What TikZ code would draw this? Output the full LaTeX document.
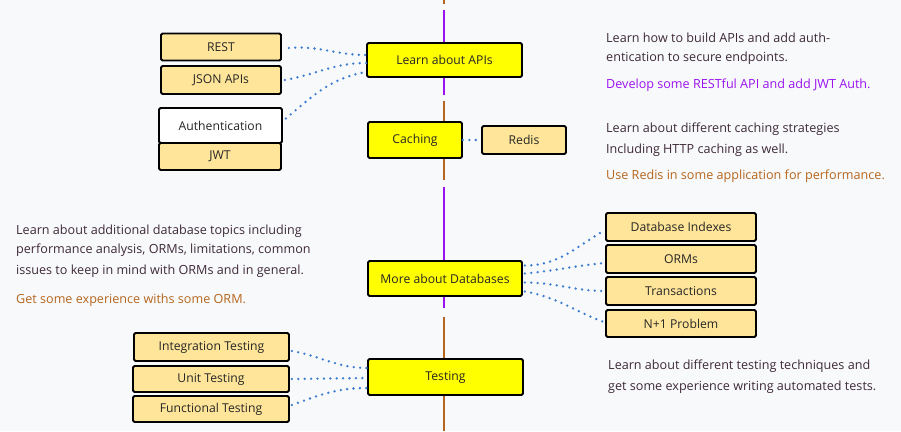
\documentclass[tikz,border=0pt]{standalone}
\usepackage{fontspec}
\setmainfont{Open Sans}
\usetikzlibrary{calc}
\definecolor{bgc}{HTML}{F8F9FB}
\definecolor{yel}{HTML}{FFFF00}
\definecolor{lor}{HTML}{FFE599}
\definecolor{purp}{HTML}{9A12F0}
\definecolor{brwn}{HTML}{B5651D}
\definecolor{txt}{HTML}{3E2A38}
\definecolor{dotb}{HTML}{3B7BD0}
\tikzset{
  box/.style={draw=black,line width=1.8pt,rounded corners=1.5pt,inner sep=0pt,font=\fontsize{12.2}{14}\selectfont,text=black!85},
  mainbox/.style={box,fill=yel},
  subbox/.style={box,fill=lor},
  whitebox/.style={box,fill=white},
  dotline/.style={dotb,line width=2.6pt,line cap=round,dash pattern=on 0pt off 6.4pt},
  para/.style={anchor=west,inner sep=0pt,font=\fontsize{12.6}{14}\selectfont,text=txt},
  tline/.style={line width=2.4pt}
}
\begin{document}
\begin{tikzpicture}[x=1pt,y=-1pt]
\fill[bgc] (0,0) rectangle (901,431);
\useasboundingbox (0,0) rectangle (901,431);
% timeline
\draw[tline,brwn] (444,0) -- (444,4);
\draw[tline,purp] (444,10) -- (444,95);
\draw[tline,brwn] (444,101) -- (444,180);
\draw[tline,purp] (444,187) -- (444,308);
\draw[tline,brwn] (444,317) -- (444,431);
% main boxes
\node[mainbox,minimum width=155pt,minimum height=34pt] (apis) at (444.5,60) {Learn about APIs};
\node[mainbox,minimum width=94pt,minimum height=36pt] (cach) at (415,140) {Caching};
\node[mainbox,minimum width=154pt,minimum height=35pt] (dbs) at (445,278.5) {More about Databases};
\node[mainbox,minimum width=155pt,minimum height=36pt] (test) at (445.5,377) {Testing};
% sub boxes
\node[subbox,minimum width=120pt,minimum height=27pt] (rest) at (221,47) {REST};
\node[subbox,minimum width=120pt,minimum height=28pt] (json) at (221,80) {JSON APIs};
\node[whitebox,minimum width=123pt,minimum height=35pt] (auth) at (220.5,125.5) {Authentication};
\node[subbox,minimum width=122pt,minimum height=27pt] (jwt) at (220,156.5) {JWT};
\node[subbox,minimum width=84pt,minimum height=28pt] (redis) at (524,140) {Redis};
\node[subbox,minimum width=150pt,minimum height=28pt] (dbi) at (681,227) {Database Indexes};
\node[subbox,minimum width=150pt,minimum height=28pt] (orm) at (681,259) {ORMs};
\node[subbox,minimum width=150pt,minimum height=28pt] (trx) at (681,291) {Transactions};
\node[subbox,minimum width=150pt,minimum height=27pt] (npo) at (681,323.5) {N+1 Problem};
\node[subbox,minimum width=155pt,minimum height=28pt] (integ) at (211.5,347) {Integration Testing};
\node[subbox,minimum width=156pt,minimum height=26pt] (unit) at (211,379) {Unit Testing};
\node[subbox,minimum width=156pt,minimum height=26pt] (func) at (211,409) {Functional Testing};
% connectors
\draw[dotline] ($(rest.east)+(7,1)$) to[out=5,in=180] ($(apis.west)+(0,-5)$);
\draw[dotline] ($(json.east)+(3,0)$) to[out=10,in=180] ($(apis.west)+(0,3)$);
\draw[dotline] ($(auth.east)+(3,-7)$) to[out=40,in=190] ($(apis.west)+(0,12)$);
\draw[dotline] (cach.east) -- (redis.west);
\draw[dotline] ($(dbs.east)+(2,-13)$) to[out=0,in=210] ($(dbi.west)+(0,3)$);
\draw[dotline] ($(dbs.east)+(2,-5)$) to[out=5,in=185] ($(orm.west)+(0,4)$);
\draw[dotline] ($(dbs.east)+(2,4)$) to[out=0,in=180] ($(trx.west)+(0,0)$);
\draw[dotline] ($(dbs.east)+(2,13)$) to[out=-10,in=160] ($(npo.west)+(0,-1)$);
\draw[dotline] ($(integ.east)+(2,4)$) to[out=-10,in=180] ($(test.west)+(0,-9)$);
\draw[dotline] ($(unit.east)+(2,0)$) -- ($(test.west)+(0,1)$);
\draw[dotline] ($(func.east)+(2,-4)$) to[out=20,in=180] ($(test.west)+(0,11)$);
% descriptions
\node[para] (t1) at (606,38) {Learn how to build APIs and add auth-};
\node[para] (t2) at (606,58) {entication to secure endpoints.};
\node[para,text=purp] (t3) at (606,85) {Develop some RESTful API and add JWT Auth.};
\node[para] (t4) at (606,129) {Learn about different caching strategies};
\node[para] (t5) at (606,150) {Including HTTP caching as well.};
\node[para,text=brwn] (t6) at (606,176) {Use Redis in some application for performance.};
\node[para] (t7) at (16,231) {Learn about additional database topics including};
\node[para] (t8) at (16,250) {performance analysis, ORMs, limitations, common};
\node[para] (t9) at (16,271) {issues to keep in mind with ORMs and in general.};
\node[para,text=brwn] (t10) at (16,300) {Get some experience withs some ORM.};
\node[para] (t11) at (608,366) {Learn about different testing techniques and};
\node[para] (t12) at (608,387) {get some experience writing automated tests.};
\end{tikzpicture}
\end{document}
